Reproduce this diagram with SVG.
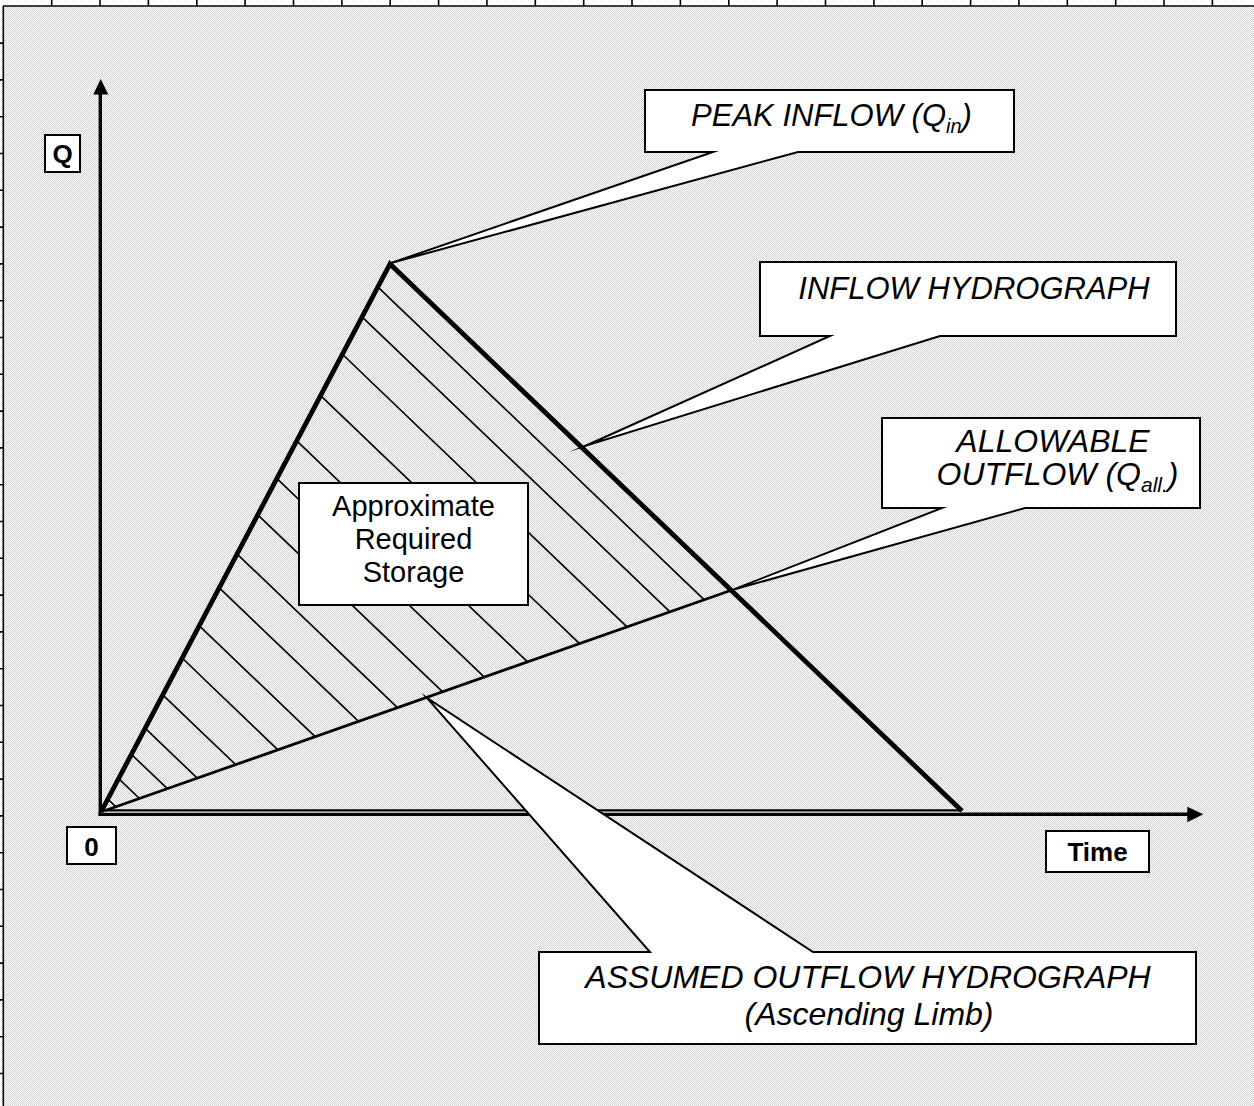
<svg xmlns="http://www.w3.org/2000/svg" width="1254" height="1106" viewBox="0 0 1254 1106">
<defs>
<pattern id="dots" width="2" height="2" patternUnits="userSpaceOnUse">
<rect width="2" height="2" fill="#fdfdfd"/>
<rect width="1" height="1" fill="#d2d2d2"/>
<rect x="1" y="1" width="1" height="1" fill="#d2d2d2"/>
</pattern>
</defs>
<style>
.rule{stroke:#000;stroke-width:1.6;fill:none}
.hatch{stroke:#000;stroke-width:1.6;fill:none}
.box{fill:#fff;stroke:#000;stroke-width:2}
.call{fill:#fff;stroke:#000;stroke-width:2;stroke-linejoin:miter;stroke-miterlimit:30}
.lbl{font-family:"Liberation Sans",Arial,sans-serif;font-weight:bold;font-size:26px;fill:#000;text-anchor:middle}
.it{font-family:"Liberation Sans",Arial,sans-serif;font-style:italic;fill:#000;text-anchor:middle}
.reg{font-family:"Liberation Sans",Arial,sans-serif;font-size:29px;fill:#000;text-anchor:middle}
</style>
<rect width="1254" height="1106" fill="#fff"/>
<rect x="4" y="7" width="1250" height="1099" fill="url(#dots)"/>
<g id="ruler">
<line class="rule" x1="3" y1="6" x2="1254" y2="6"/>
<line class="rule" x1="3.3" y1="6" x2="3.3" y2="1106"/>
<path class="rule" d="M51.7,0V6M100,0V6M148.4,0V6M196.8,0V6M245.1,0V6M293.5,0V6M341.9,0V6M390.2,0V6M438.6,0V6M486.9,0V6M535.3,0V6M583.7,0V6M632,0V6M680.4,0V6M728.8,0V6M777.1,0V6M825.5,0V6M873.9,0V6M922.2,0V6M970.6,0V6M1018.9,0V6M1067.3,0V6M1115.7,0V6M1164,0V6M1212.4,0V6"/>
<path class="rule" d="M0,43.1H3.3M0,79.9H3.3M0,116.7H3.3M0,153.5H3.3M0,190.3H3.3M0,227.1H3.3M0,263.9H3.3M0,300.7H3.3M0,337.5H3.3M0,374.3H3.3M0,411.1H3.3M0,447.9H3.3M0,484.7H3.3M0,521.5H3.3M0,558.3H3.3M0,595.1H3.3M0,631.9H3.3M0,668.7H3.3M0,705.5H3.3M0,742.3H3.3M0,779.1H3.3M0,815.9H3.3M0,852.7H3.3M0,889.5H3.3M0,926.3H3.3M0,963.1H3.3M0,999.9H3.3M0,1036.7H3.3M0,1073.5H3.3"/>
</g>
<g id="connectors">
<g id="hatching" class="hatch">
<line x1="107.8" y1="799" x2="115.9" y2="806.8"/>
<line x1="118.6" y1="778.6" x2="139.4" y2="798.5"/>
<line x1="131.4" y1="754.3" x2="167.3" y2="788.7"/>
<line x1="145.1" y1="728.2" x2="197.2" y2="778.1"/>
<line x1="162.7" y1="694.8" x2="235.6" y2="764.6"/>
<line x1="182.1" y1="658" x2="277.9" y2="749.8"/>
<line x1="199.1" y1="625.6" x2="315.1" y2="736.7"/>
<line x1="219.1" y1="587.7" x2="358.6" y2="721.4"/>
<line x1="236.9" y1="553.8" x2="397.5" y2="707.7"/>
<line x1="257.6" y1="514.6" x2="442.6" y2="691.8"/>
<line x1="276.7" y1="478.3" x2="484.3" y2="677.2"/>
<line x1="296.5" y1="440.6" x2="527.6" y2="661.9"/>
<line x1="320.4" y1="395.3" x2="579.6" y2="643.6"/>
<line x1="342.1" y1="354" x2="627" y2="626.9"/>
<line x1="361.8" y1="316.6" x2="670" y2="611.8"/>
<line x1="377.5" y1="286.7" x2="704.3" y2="599.8"/>
</g>
<line id="outflow" x1="101" y1="812" x2="732" y2="590" stroke="#000" stroke-width="2.8"/>
<g id="axes">
<line x1="100.3" y1="816" x2="100.3" y2="92" stroke="#000" stroke-width="3.4"/>
<polygon points="93.3,94.5 100.7,79 108.3,94.5" fill="#000"/>
<line x1="98.6" y1="814.3" x2="1189" y2="814.3" stroke="#000" stroke-width="3.6"/>
<polygon points="1187.3,806.7 1203.3,814.3 1187.3,822.3" fill="#000"/>
</g>
<g id="inflow-hydrograph">
<line x1="101" y1="812" x2="962" y2="812" stroke="#fff" stroke-width="1.2"/>
<line x1="101" y1="810.4" x2="962" y2="810.4" stroke="#000" stroke-width="2.4"/>
<polyline points="101,812 390,264 962,811" fill="none" stroke="#000" stroke-width="4.8" stroke-linejoin="miter"/>
</g>
</g>
<g id="node-storage">
<rect class="box" x="299" y="483" width="229" height="122"/>
<text class="reg" x="413.5" y="516">Approximate</text>
<text class="reg" x="413.5" y="549">Required</text>
<text class="reg" x="413.5" y="582">Storage</text>
</g>
<g id="node-peak">
<path class="call" d="M645,90H1014V152H798L391,263L713,152H645Z"/>
<text class="it" x="831.5" y="126" font-size="31">PEAK INFLOW (Q<tspan font-size="20" dy="7">in</tspan><tspan dy="-7">)</tspan></text>
</g>
<g id="node-inflow">
<path class="call" d="M760,262H1176V336H940L585,446L830,336H760Z"/>
<text class="it" x="974" y="299" font-size="31">INFLOW HYDROGRAPH</text>
</g>
<g id="node-allowable">
<path class="call" d="M882,418H1200V508H1025L732,590L942,508H882Z"/>
<text class="it" x="1053" y="451.7" font-size="32">ALLOWABLE</text>
<text class="it" x="1057.5" y="485" font-size="32">OUTFLOW (Q<tspan font-size="21" dy="7">all.</tspan><tspan dy="-7">)</tspan></text>
</g>
<g id="node-assumed">
<path class="call" d="M539,1044V952H650L427,698L813,952H1196V1044Z"/>
<text class="it" x="868" y="988" font-size="32">ASSUMED OUTFLOW HYDROGRAPH</text>
<text class="it" x="869" y="1025" font-size="32">(Ascending Limb)</text>
</g>
<g id="node-q">
<rect class="box" x="45" y="135" width="35" height="37"/>
<text class="lbl" x="62.5" y="163">Q</text>
</g>
<g id="node-0">
<rect class="box" x="67" y="827" width="49" height="37"/>
<text class="lbl" x="91.5" y="856">0</text>
</g>
<g id="node-time">
<rect class="box" x="1046" y="831" width="103" height="41"/>
<text class="lbl" x="1097.5" y="861">Time</text>
</g>
</svg>
